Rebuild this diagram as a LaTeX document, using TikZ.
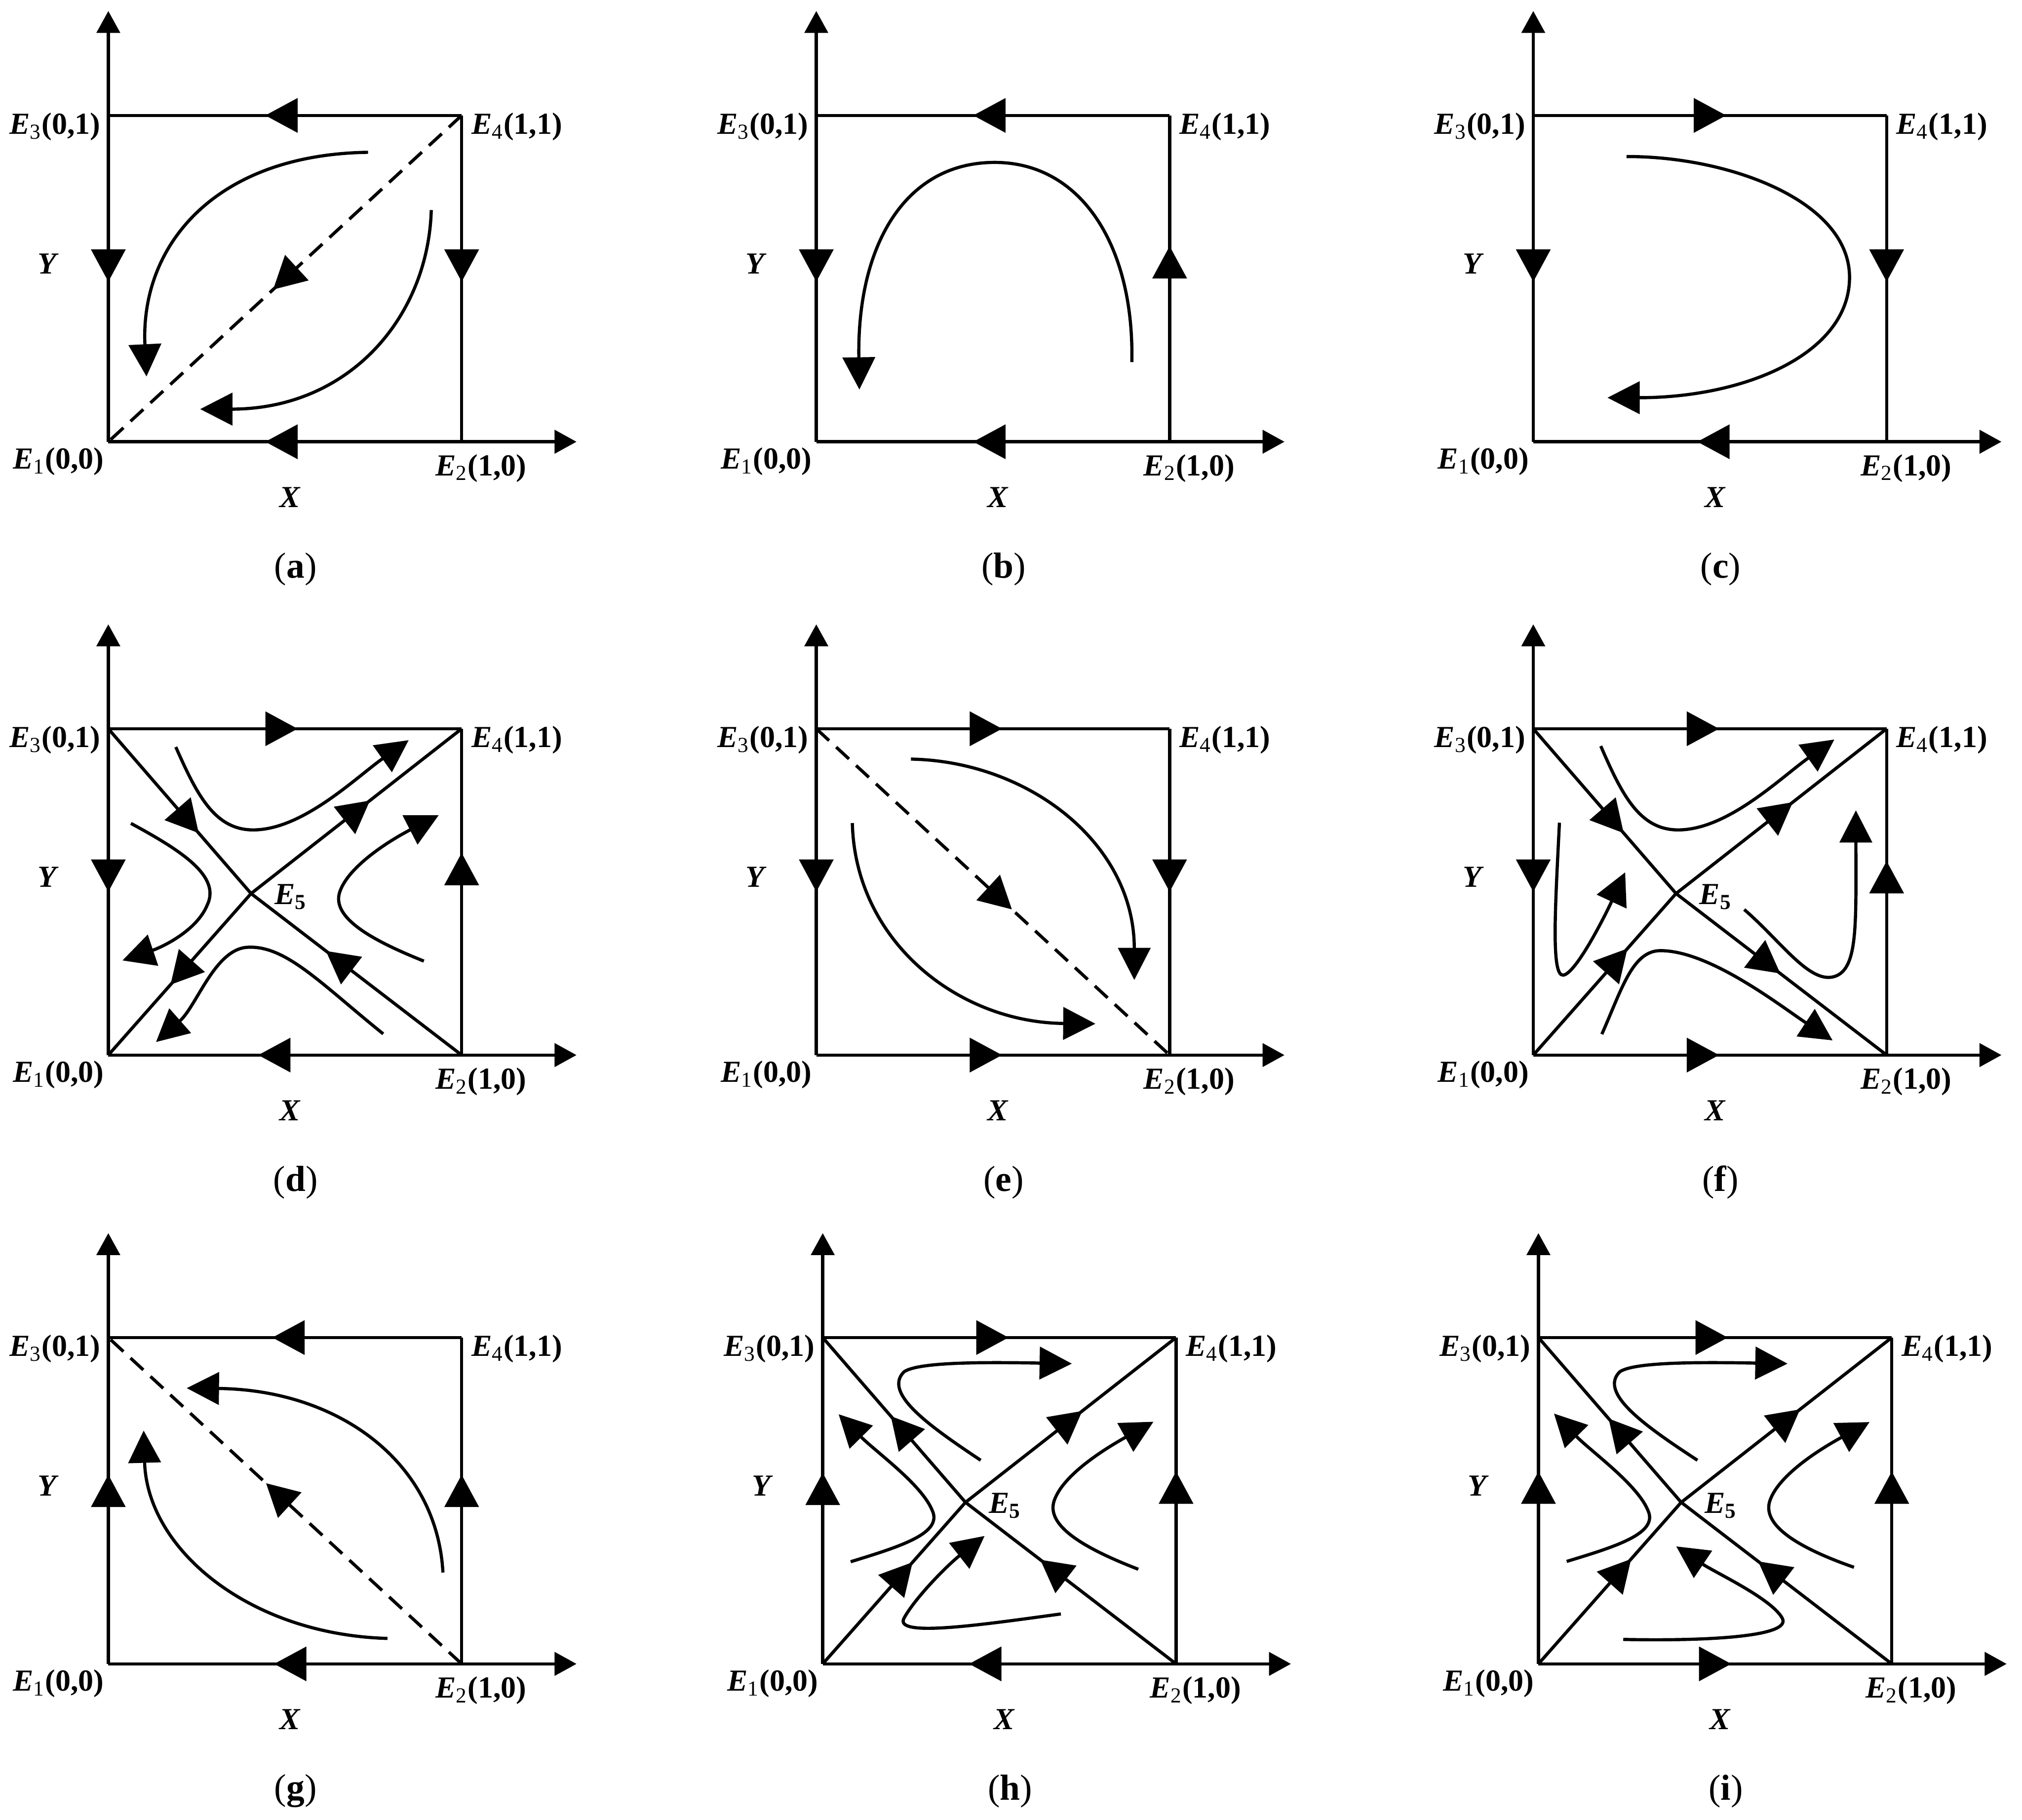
\documentclass[tikz,border=0pt]{standalone}
\usepackage{fontspec}
\setmainfont{Liberation Serif}
\usepackage{tikz}
\usetikzlibrary{arrows.meta, decorations.markings}

\newcommand{\Elab}[2]{\textbf{\textit{E}}\textsubscript{#1}\textbf{(#2)}}

\begin{document}
\begin{tikzpicture}[
  axis/.style={line width=1.4pt, -{Triangle[length=0.34cm, width=0.36cm]}},
  edge/.style={line width=1.4pt},
  dashline/.style={dash pattern=on 0.27cm off 0.15cm},
  orbit/.style={line width=1.4pt, -{Triangle[length=0.5cm, width=0.5cm]}},
  flow/.style={postaction={decorate, decoration={markings,
    mark=at position #1 with {\fill[solid] (0.25cm,0cm) -- (-0.25cm,0.27cm) -- (-0.25cm,-0.27cm) -- cycle;}}}},
  lbl/.style={font=\fontsize{13.5}{16}\selectfont, inner sep=1pt},
  subcap/.style={font=\fontsize{16}{19}\selectfont},
  panel/.style={shift={(E1-#1)}, x=5.48cm, y=5.06cm},
]
\useasboundingbox (0,0) rectangle (31.36,28.22);

% Axes, corner labels and captions, shared by all nine panels.
\foreach \p/\ox/\oy in {a/1.68/21.37, b/12.66/21.37, c/23.78/21.37,
                        d/1.68/11.86, e/12.66/11.86, f/23.78/11.86,
                        g/1.68/2.42,  h/12.76/2.42,  i/23.86/2.42} {
  \begin{scope}[shift={(\ox cm,\oy cm)}, x=5.48cm, y=5.06cm]
    \coordinate (E1-\p) at (0,0);
    \coordinate (E2-\p) at (1,0);
    \coordinate (E3-\p) at (0,1);
    \coordinate (E4-\p) at (1,1);
    \coordinate (E5-\p) at (0.404,0.495);
    \coordinate (xtip-\p) at (1.325,0);
    \coordinate (ytip-\p) at (0,1.32);
    \draw[axis] (E1-\p) -- (xtip-\p);
    \draw[axis] (E1-\p) -- (ytip-\p);
    \node[lbl, anchor=north east] (l1-\p) at (-0.005,-0.01) {\Elab{1}{0,0}};
    \node[lbl, anchor=north]      (l2-\p) at (1.055,-0.03)  {\Elab{2}{1,0}};
    \node[lbl, anchor=east]       (l3-\p) at (-0.015,0.965) {\Elab{3}{0,1}};
    \node[lbl, anchor=west]       (l4-\p) at (1.02,0.965)   {\Elab{4}{1,1}};
    \node[lbl] (lx-\p) at (0.515,-0.17) {\textbf{\textit{X}}};
    \node[lbl] (ly-\p) at (-0.17,0.545) {\textbf{\textit{Y}}};
    \node[subcap] (cap-\p) at (0.53,-0.39) {(\textbf{\p})};
  \end{scope}
}

% (a)
\begin{scope}[panel=a]
  \draw[edge, flow=0.51] (E4-a) -- (E3-a);
  \draw[edge, flow=0.51] (E2-a) -- (E1-a);
  \draw[edge, flow=0.46] (E3-a) -- (E1-a);
  \draw[edge, flow=0.46] (E4-a) -- (E2-a);
  \draw[edge, dashline, flow=0.5] (E4-a) -- (E1-a);
  \draw[orbit] (0.735,0.887) .. controls (0.3,0.88) and (0.09,0.6) .. (0.108,0.2);
  \draw[orbit] (0.914,0.71) .. controls (0.905,0.38) and (0.68,0.1) .. (0.26,0.1);
\end{scope}

% (b)
\begin{scope}[panel=b]
  \draw[edge, flow=0.51] (E4-b) -- (E3-b);
  \draw[edge, flow=0.51] (E2-b) -- (E1-b);
  \draw[edge, flow=0.46] (E3-b) -- (E1-b);
  \draw[edge, flow=0.55] (E2-b) -- (E4-b);
  \draw[orbit] (0.893,0.244) .. controls (0.9,0.6) and (0.75,0.856) .. (0.505,0.856)
    .. controls (0.25,0.856) and (0.115,0.6) .. (0.122,0.16);
\end{scope}

% (c)
\begin{scope}[panel=c]
  \draw[edge, flow=0.5]  (E3-c) -- (E4-c);
  \draw[edge, flow=0.49] (E2-c) -- (E1-c);
  \draw[edge, flow=0.46] (E3-c) -- (E1-c);
  \draw[edge, flow=0.46] (E4-c) -- (E2-c);
  \draw[orbit] (0.264,0.874) .. controls (0.55,0.875) and (0.895,0.74) .. (0.895,0.504)
    .. controls (0.895,0.27) and (0.6,0.135) .. (0.21,0.135);
\end{scope}

% (d)
\begin{scope}[panel=d]
  \draw[edge, flow=0.49] (E3-d) -- (E4-d);
  \draw[edge, flow=0.53] (E2-d) -- (E1-d);
  \draw[edge, flow=0.45] (E3-d) -- (E1-d);
  \draw[edge, flow=0.57] (E2-d) -- (E4-d);
  \draw[edge, flow=0.56]  (E3-d) -- (E5-d);
  \draw[edge, flow=0.585] (E2-d) -- (E5-d);
  \draw[edge, flow=0.505] (E5-d) -- (E4-d);
  \draw[edge, flow=0.49]  (E5-d) -- (E1-d);
  \node[lbl] (l5-d) at (0.516,0.485) {\textbf{\textit{E}\textsubscript{5}}};
  \draw[orbit] (0.191,0.944) .. controls (0.25,0.8) and (0.3,0.69) .. (0.41,0.69)
    .. controls (0.55,0.69) and (0.7,0.85) .. (0.85,0.965);
  \draw[orbit] (0.064,0.71) .. controls (0.2,0.63) and (0.32,0.55) .. (0.28,0.46)
    .. controls (0.25,0.38) and (0.15,0.33) .. (0.04,0.29);
  \draw[orbit] (0.893,0.288) .. controls (0.75,0.35) and (0.63,0.42) .. (0.655,0.5)
    .. controls (0.68,0.58) and (0.8,0.66) .. (0.935,0.735);
  \draw[orbit] (0.778,0.065) .. controls (0.6,0.22) and (0.5,0.34) .. (0.39,0.33)
    .. controls (0.3,0.32) and (0.25,0.15) .. (0.135,0.04);
\end{scope}

% (e)
\begin{scope}[panel=e]
  \draw[edge, flow=0.48] (E3-e) -- (E4-e);
  \draw[edge, flow=0.48] (E1-e) -- (E2-e);
  \draw[edge, flow=0.45] (E3-e) -- (E1-e);
  \draw[edge, flow=0.45] (E4-e) -- (E2-e);
  \draw[edge, dashline, flow=0.52] (E3-e) -- (E2-e);
  \draw[orbit] (0.268,0.907) .. controls (0.6,0.9) and (0.9,0.65) .. (0.9,0.23);
  \draw[orbit] (0.102,0.711) .. controls (0.11,0.35) and (0.4,0.1) .. (0.79,0.096);
\end{scope}

% (f)
\begin{scope}[panel=f]
  \draw[edge, flow=0.48] (E3-f) -- (E4-f);
  \draw[edge, flow=0.48] (E1-f) -- (E2-f);
  \draw[edge, flow=0.45] (E3-f) -- (E1-f);
  \draw[edge, flow=0.545] (E2-f) -- (E4-f);
  \draw[edge, flow=0.56]  (E3-f) -- (E5-f);
  \draw[edge, flow=0.435] (E5-f) -- (E2-f);
  \draw[edge, flow=0.585] (E1-f) -- (E5-f);
  \draw[edge, flow=0.495] (E5-f) -- (E4-f);
  \node[lbl] (l5-f) at (0.516,0.485) {\textbf{\textit{E}\textsubscript{5}}};
  \draw[orbit] (0.191,0.947) .. controls (0.25,0.8) and (0.3,0.69) .. (0.41,0.69)
    .. controls (0.55,0.69) and (0.7,0.85) .. (0.852,0.967);
  \draw[orbit] (0.074,0.712) .. controls (0.062,0.45) and (0.05,0.24) .. (0.085,0.245)
    .. controls (0.12,0.25) and (0.2,0.42) .. (0.26,0.56);
  \draw[orbit] (0.597,0.446) .. controls (0.7,0.35) and (0.78,0.22) .. (0.85,0.24)
    .. controls (0.92,0.26) and (0.913,0.4) .. (0.913,0.75);
  \draw[orbit] (0.194,0.064) .. controls (0.25,0.2) and (0.28,0.32) .. (0.36,0.32)
    .. controls (0.5,0.32) and (0.7,0.15) .. (0.847,0.045);
\end{scope}

% (g)
\begin{scope}[panel=g]
  \draw[edge, flow=0.49] (E4-g) -- (E3-g);
  \draw[edge, flow=0.485] (E2-g) -- (E1-g);
  \draw[edge, flow=0.53] (E1-g) -- (E3-g);
  \draw[edge, flow=0.53] (E2-g) -- (E4-g);
  \draw[edge, dashline, flow=0.52] (E2-g) -- (E3-g);
  \draw[orbit] (0.947,0.28) .. controls (0.93,0.62) and (0.65,0.84) .. (0.222,0.845);
  \draw[orbit] (0.79,0.078) .. controls (0.4,0.09) and (0.11,0.35) .. (0.1,0.715);
\end{scope}

% (h)
\begin{scope}[panel=h]
  \draw[edge, flow=0.48] (E3-h) -- (E4-h);
  \draw[edge, flow=0.54] (E2-h) -- (E1-h);
  \draw[edge, flow=0.536] (E1-h) -- (E3-h);
  \draw[edge, flow=0.54] (E2-h) -- (E4-h);
  \draw[edge, flow=0.45]  (E5-h) -- (E3-h);
  \draw[edge, flow=0.585] (E2-h) -- (E5-h);
  \draw[edge, flow=0.555] (E1-h) -- (E5-h);
  \draw[edge, flow=0.495] (E5-h) -- (E4-h);
  \node[lbl] (l5-h) at (0.516,0.485) {\textbf{\textit{E}\textsubscript{5}}};
  \draw[orbit] (0.447,0.624) .. controls (0.3,0.73) and (0.17,0.83) .. (0.23,0.895)
    .. controls (0.27,0.925) and (0.45,0.925) .. (0.705,0.92);
  \draw[orbit] (0.079,0.313) .. controls (0.22,0.36) and (0.34,0.4) .. (0.31,0.47)
    .. controls (0.28,0.55) and (0.15,0.65) .. (0.045,0.765);
  \draw[orbit] (0.893,0.29) .. controls (0.75,0.35) and (0.63,0.42) .. (0.655,0.5)
    .. controls (0.68,0.58) and (0.8,0.66) .. (0.936,0.742);
  \draw[orbit] (0.674,0.153) .. controls (0.45,0.12) and (0.2,0.08) .. (0.23,0.14)
    .. controls (0.26,0.2) and (0.35,0.3) .. (0.458,0.392);
\end{scope}

% (i)
\begin{scope}[panel=i]
  \draw[edge, flow=0.49] (E3-i) -- (E4-i);
  \draw[edge, flow=0.5]  (E1-i) -- (E2-i);
  \draw[edge, flow=0.54] (E1-i) -- (E3-i);
  \draw[edge, flow=0.54] (E2-i) -- (E4-i);
  \draw[edge, flow=0.435] (E5-i) -- (E3-i);
  \draw[edge, flow=0.575] (E2-i) -- (E5-i);
  \draw[edge, flow=0.575] (E1-i) -- (E5-i);
  \draw[edge, flow=0.505] (E5-i) -- (E4-i);
  \node[lbl] (l5-i) at (0.516,0.485) {\textbf{\textit{E}\textsubscript{5}}};
  \draw[orbit] (0.45,0.624) .. controls (0.3,0.73) and (0.17,0.83) .. (0.23,0.895)
    .. controls (0.27,0.925) and (0.45,0.925) .. (0.705,0.92);
  \draw[orbit] (0.08,0.314) .. controls (0.22,0.36) and (0.34,0.4) .. (0.31,0.47)
    .. controls (0.28,0.55) and (0.15,0.65) .. (0.044,0.767);
  \draw[orbit] (0.893,0.296) .. controls (0.75,0.35) and (0.63,0.42) .. (0.655,0.5)
    .. controls (0.68,0.58) and (0.8,0.66) .. (0.937,0.741);
  \draw[orbit] (0.24,0.075) .. controls (0.45,0.07) and (0.72,0.08) .. (0.69,0.14)
    .. controls (0.66,0.2) and (0.5,0.28) .. (0.39,0.36);
\end{scope}

\end{tikzpicture}
\end{document}
